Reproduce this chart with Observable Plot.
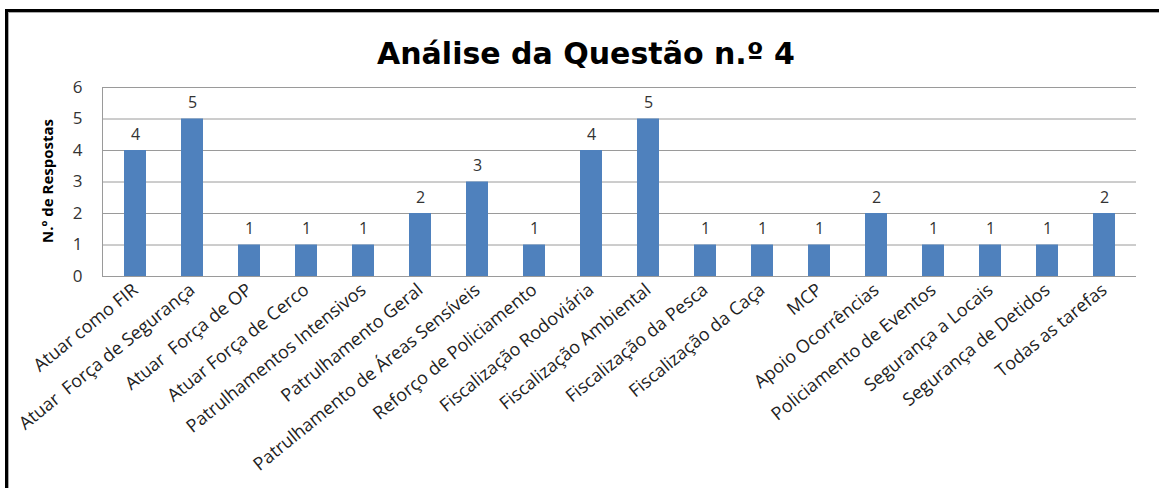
<!DOCTYPE html>
<html><head><meta charset="utf-8">
<script src="https://cdn.jsdelivr.net/npm/d3@7"></script>
<script src="https://cdn.jsdelivr.net/npm/@observablehq/plot@0.6"></script>
<style>
body{margin:0;background:#fff;}
#wrap{position:relative;width:1159px;height:488px;overflow:hidden;font-family:"Open Sans",sans-serif;background:#fff}
#frameL{position:absolute;left:5px;top:9px;width:3px;height:479px;background:#000}
#frameT{position:absolute;left:5px;top:9px;width:1154px;height:3px;background:#000}
#shL{position:absolute;left:8px;top:12px;width:1px;height:476px;background:#aaa}
#shT{position:absolute;left:8px;top:12px;width:1151px;height:1px;background:#aaa}
#title{position:absolute;left:0;width:1172px;top:34px;text-align:center;font:bold 30px "DejaVu Sans",sans-serif;color:#000;line-height:40px}
#ylab{position:absolute;left:47px;top:181px;transform:translate(-50%,-50%) rotate(-90deg);font:bold 15px "Open Sans",sans-serif;white-space:nowrap;color:#000}
#chart{position:absolute;left:0;top:0}
#chart svg text{white-space:pre}
</style></head>
<body>
<div id="wrap">
  <div id="chart"></div>
  <div id="frameL"></div><div id="frameT"></div><div id="shL"></div><div id="shT"></div>
  <div id="title">Análise da Questão n.º 4</div>
  <div id="ylab">N.º de Respostas</div>
</div>
<script>
const categories = [
  "Atuar como FIR",
  "Atuar  Força de Segurança",
  "Atuar  Força de OP",
  "Atuar Força de Cerco",
  "Patrulhamentos Intensivos",
  "Patrulhamento Geral",
  "Patrulhamento de Áreas Sensíveis",
  "Reforço de Policiamento",
  "Fiscalização Rodoviária",
  "Fiscalização Ambiental",
  "Fiscalização da Pesca",
  "Fiscalização da Caça",
  "MCP",
  "Apoio Ocorrências",
  "Policiamento de Eventos",
  "Segurança a Locais",
  "Segurança de Detidos",
  "Todas as tarefas"
];
const values = [4, 5, 1, 1, 1, 2, 3, 1, 4, 5, 1, 1, 1, 2, 1, 1, 1, 2];
const yTicks = [0, 1, 2, 3, 4, 5, 6];

const data = categories.map((c, i) => ({cat: c, val: values[i]}));

const chart = Plot.plot({
  width: 1159,
  height: 488,
  marginLeft: 102,
  marginRight: 23,
  marginTop: 87,
  marginBottom: 212,
  x: {domain: categories, paddingInner: 0.62, paddingOuter: 0.31, label: null},
  y: {domain: [0, 6], label: null},
  style: {fontFamily: "'Open Sans', sans-serif", fontSize: "16px", color: "#333", background: "transparent", overflow: "visible"},
  marks: [
    Plot.gridY(yTicks, {stroke: "#9a9a9a", strokeOpacity: 1, strokeWidth: 1}),
    Plot.frame({anchor: "left", stroke: "#9a9a9a", strokeOpacity: 1}),
    Plot.barY(data, {x: "cat", y: "val", fill: "#4F81BD"}),
    Plot.text(data, {x: "cat", y: "val", text: d => String(d.val), dy: -16, fontSize: 16, fill: "#333"}),
    Plot.axisY(yTicks, {tickSize: 0, tickPadding: 20, fontSize: 17, fill: "#333", label: null}),
    Plot.axisX({tickRotate: -39, tickSize: 0, tickPadding: 11, fontSize: 18, fill: "#222", label: null})
  ]
});
document.getElementById("chart").appendChild(chart);
</script>
</body></html>
